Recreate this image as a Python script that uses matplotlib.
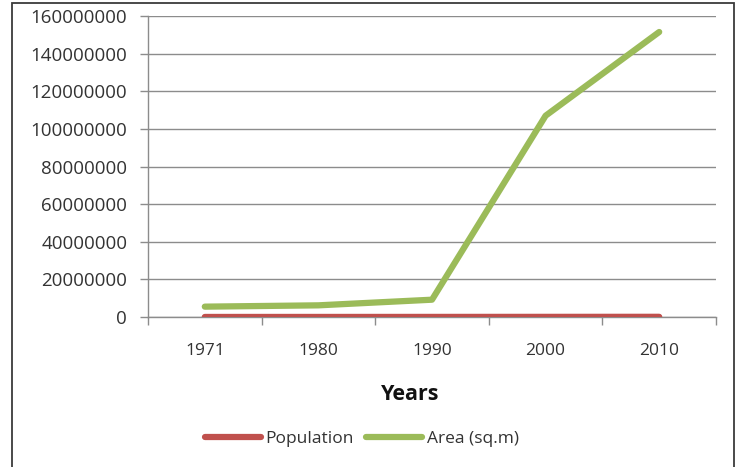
import matplotlib
matplotlib.use("Agg")
import matplotlib.pyplot as plt
from matplotlib.patches import Rectangle
from matplotlib.ticker import MultipleLocator, FuncFormatter

years = ["1971", "1980", "1990", "2000", "2010"]
population = [20000, 30000, 45000, 70000, 95000]
area = [5500000, 6200000, 9200000, 107000000, 151500000]

W, H = 743, 467
fig = plt.figure(figsize=(W / 100, H / 100), dpi=100)
plt.rcParams["font.family"] = ["Open Sans", "DejaVu Sans"]

# plot area in pixel coordinates
left, right, top, bottom = 148, 716, 16, 317
ax = fig.add_axes([left / W, 1 - bottom / H, (right - left) / W, (bottom - top) / H])

x = list(range(len(years)))
red = "#C0504D"
green = "#9BBB59"
ax.plot(x, population, color=red, lw=4.5, solid_capstyle="round", label="Population", zorder=3)
ax.plot(x, area, color=green, lw=4.5, solid_capstyle="round", solid_joinstyle="round",
        label="Area (sq.m)", zorder=3)

ax.set_xlim(-0.5, len(years) - 0.5)
ax.set_ylim(0, 160000000)
ax.yaxis.set_major_locator(MultipleLocator(20000000))
ax.yaxis.set_major_formatter(FuncFormatter(lambda v, p: f"{int(v)}"))
ax.grid(axis="y", color="#8c8c8c", lw=1.0)
ax.set_axisbelow(True)

ax.set_xticks(x)
ax.set_xticklabels(years)
ax.set_xticks([i - 0.5 for i in range(len(years) + 1)], minor=True)
ax.tick_params(axis="x", which="major", length=0, pad=19, labelsize=12.5, labelcolor="#333333")
ax.tick_params(axis="x", which="minor", length=6, color="#8c8c8c", width=1.0, direction="out")
ax.tick_params(axis="y", length=6, color="#8c8c8c", width=1.0, pad=9, labelsize=13.5,
               labelcolor="#333333")

for s in ["top", "right"]:
    ax.spines[s].set_visible(False)
for s in ["left", "bottom"]:
    ax.spines[s].set_color("#8c8c8c")
    ax.spines[s].set_linewidth(1.0)

ax.set_xlabel("Years", fontsize=15.5, fontweight="bold", color="#111111")
ax.xaxis.set_label_coords((410 - left) / (right - left), -(394 - bottom) / (bottom - top))
ax.xaxis.label.set_va("center")

leg = fig.legend(loc="center", bbox_to_anchor=(362 / W, 1 - 439 / H), ncol=2, frameon=False,
                 fontsize=12.5, handlelength=3.2, handletextpad=0.3, columnspacing=0.7)
for t in leg.get_texts():
    t.set_color("#333333")

# outer chart border
fig.patches.append(Rectangle((12 / W, -0.05), (734 - 12) / W, 1.05 - 3 / H,
                             transform=fig.transFigure, fill=False, ec="#3a3a3a", lw=1.3))

fig.savefig("out.png", dpi=100)
